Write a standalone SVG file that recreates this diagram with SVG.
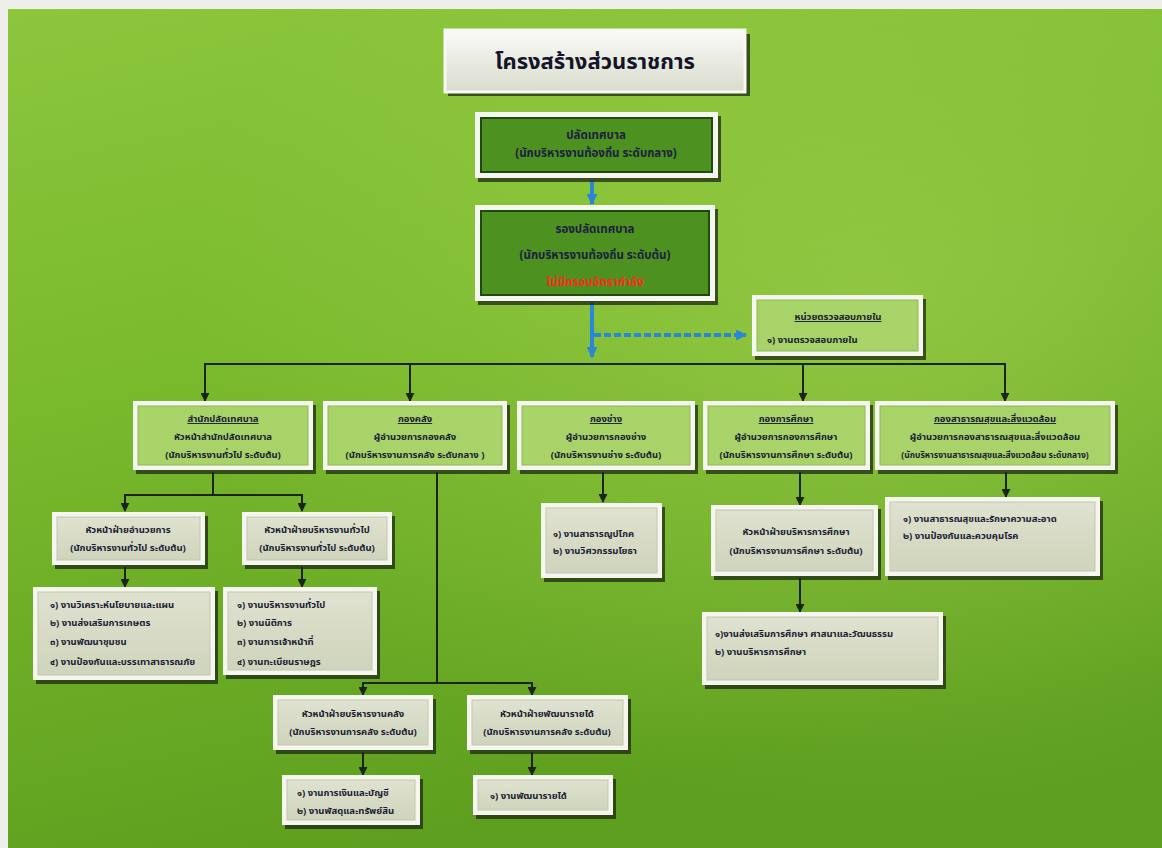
<svg xmlns="http://www.w3.org/2000/svg" width="1162" height="848" viewBox="0 0 1162 848">
<defs>
<linearGradient id="bg" x1="0" y1="0" x2="0.3" y2="1">
<stop offset="0" stop-color="#8cc63c"/>
<stop offset="0.45" stop-color="#79b92c"/>
<stop offset="1" stop-color="#5e9f1f"/>
</linearGradient>
<radialGradient id="glow" cx="0.75" cy="0.35" r="0.6">
<stop offset="0" stop-color="#a6d453" stop-opacity="0.55"/>
<stop offset="1" stop-color="#a6d453" stop-opacity="0"/>
</radialGradient>
<linearGradient id="titleg" x1="0" y1="0" x2="0" y2="1">
<stop offset="0" stop-color="#fafaf8"/>
<stop offset="1" stop-color="#d8dccb"/>
</linearGradient>
<linearGradient id="listg" x1="0" y1="0" x2="0" y2="1">
<stop offset="0" stop-color="#dfe2cf"/>
<stop offset="1" stop-color="#cfd4bc"/>
</linearGradient>
<marker id="ah" viewBox="0 0 10 10" refX="9" refY="5" markerWidth="9" markerHeight="9" markerUnits="userSpaceOnUse" orient="auto">
<path d="M0,0 L10,5 L0,10 z" fill="#1b2416"/>
</marker>
<marker id="bh" viewBox="0 0 10 10" refX="9" refY="5" markerWidth="11" markerHeight="11" markerUnits="userSpaceOnUse" orient="auto">
<path d="M0,0 L10,5 L0,10 z" fill="#2a86d6"/>
</marker>
<style>
.sh{fill:#1c2a12;opacity:0.75}
.ow{fill:#f6f6f0}
.dk{fill:#4d9120;stroke:#1f4a0d;stroke-width:2}
.lg{fill:#a8d368;stroke:#8fb855;stroke-width:1}
.ls{fill:url(#listg);stroke:#c2c7ad;stroke-width:1}
text{font-family:'Noto Sans Thai','Noto Sans Thai UI','Loma','Garuda','Tlwg Typo','Noto Sans',sans-serif;fill:#1b1d33;font-weight:bold}
.t{font-size:22px;text-anchor:middle;fill:#15152a}
.h{font-size:11.5px;text-anchor:middle;fill:#1c2040}
.c{font-size:9.5px;text-anchor:middle}
.u{text-decoration:underline}
.l{font-size:9.5px}
.r{fill:#ff2a1a}
.con{stroke:#1b2416;stroke-width:2;fill:none}
.bl{stroke:#2a86d6;stroke-width:4;fill:none}
</style>
</defs>
<rect x="0" y="0" width="1162" height="848" fill="#eeeeea"/>
<rect x="8" y="9" width="1154" height="839" fill="url(#bg)"/>
<rect x="8" y="9" width="1154" height="839" fill="url(#glow)"/>

<g id="connectors">
<line class="bl" x1="592" y1="180" x2="592" y2="204" marker-end="url(#bh)"/>
<line class="bl" x1="592" y1="302" x2="592" y2="357" marker-end="url(#bh)"/>
<line class="bl" x1="594" y1="335" x2="746" y2="335" stroke-dasharray="7 3" marker-end="url(#bh)"/>
<line class="con" x1="204" y1="364" x2="1006" y2="364"/>
<line class="con" x1="205" y1="364" x2="205" y2="401" marker-end="url(#ah)"/>
<line class="con" x1="410" y1="364" x2="410" y2="401" marker-end="url(#ah)"/>
<line class="con" x1="803" y1="364" x2="803" y2="401" marker-end="url(#ah)"/>
<line class="con" x1="1005" y1="364" x2="1005" y2="401" marker-end="url(#ah)"/>
<line class="con" x1="213" y1="472" x2="213" y2="495"/>
<line class="con" x1="124" y1="495" x2="303" y2="495"/>
<line class="con" x1="125" y1="495" x2="125" y2="511" marker-end="url(#ah)"/>
<line class="con" x1="302" y1="495" x2="302" y2="511" marker-end="url(#ah)"/>
<line class="con" x1="125" y1="567" x2="125" y2="587" marker-end="url(#ah)"/>
<line class="con" x1="302" y1="567" x2="302" y2="587" marker-end="url(#ah)"/>
<line class="con" x1="437" y1="472" x2="437" y2="683"/>
<line class="con" x1="362" y1="683" x2="533" y2="683"/>
<line class="con" x1="363" y1="683" x2="363" y2="695" marker-end="url(#ah)"/>
<line class="con" x1="532" y1="683" x2="532" y2="695" marker-end="url(#ah)"/>
<line class="con" x1="363" y1="752" x2="363" y2="775" marker-end="url(#ah)"/>
<line class="con" x1="532" y1="752" x2="532" y2="775" marker-end="url(#ah)"/>
<line class="con" x1="603" y1="472" x2="603" y2="502" marker-end="url(#ah)"/>
<line class="con" x1="800" y1="472" x2="800" y2="505" marker-end="url(#ah)"/>
<line class="con" x1="800" y1="578" x2="800" y2="612" marker-end="url(#ah)"/>
<line class="con" x1="1006" y1="472" x2="1006" y2="497" marker-end="url(#ah)"/>
</g>

<g id="title">
<rect class="sh" x="448" y="34" width="302" height="62"/>
<rect x="445" y="30" width="300" height="62" fill="url(#titleg)" stroke="#f8f8f4" stroke-width="3"/>
<text class="t" x="595" y="69">โครงสร้างส่วนราชการ</text>
</g>

<g id="n-palad">
<rect class="sh" x="478" y="116" width="243" height="66"/>
<rect class="ow" x="475" y="112" width="243" height="66"/>
<rect class="dk" x="481" y="118" width="231" height="54"/>
<text class="h" x="596" y="139">ปลัดเทศบาล</text>
<text class="h" x="596" y="157">(นักบริหารงานท้องถิ่น ระดับกลาง)</text>
</g>

<g id="n-rongpalad">
<rect class="sh" x="478" y="209" width="240" height="96"/>
<rect class="ow" x="475" y="205" width="240" height="96"/>
<rect class="dk" x="481" y="211" width="228" height="84"/>
<text class="h" x="595" y="233">รองปลัดเทศบาล</text>
<text class="h" x="595" y="259">(นักบริหารงานท้องถิ่น ระดับต้น)</text>
<text class="h r" x="595" y="286">ไม่มีกรอบอัตรากำลัง</text>
</g>

<g id="n-audit">
<rect class="sh" x="755" y="299" width="171" height="61"/>
<rect class="ow" x="752" y="295" width="171" height="61"/>
<rect class="lg" x="757" y="300" width="161" height="51"/>
<text class="c u" x="838" y="320">หน่วยตรวจสอบภายใน</text>
<text class="l" x="767" y="343">๑) งานตรวจสอบภายใน</text>
</g>

<g id="n-samnak">
<rect class="sh" x="136" y="405" width="180" height="69"/>
<rect class="ow" x="133" y="401" width="180" height="69"/>
<rect class="lg" x="138" y="406" width="170" height="59"/>
<text class="c u" x="223" y="422">สำนักปลัดเทศบาล</text>
<text class="c" x="223" y="440">หัวหน้าสำนักปลัดเทศบาล</text>
<text class="c" x="223" y="458">(นักบริหารงานทั่วไป ระดับต้น)</text>
</g>

<g id="n-klang">
<rect class="sh" x="326" y="405" width="184" height="69"/>
<rect class="ow" x="323" y="401" width="184" height="69"/>
<rect class="lg" x="328" y="406" width="174" height="59"/>
<text class="c u" x="415" y="422">กองคลัง</text>
<text class="c" x="415" y="440">ผู้อำนวยการกองคลัง</text>
<text class="c" x="415" y="458">(นักบริหารงานการคลัง ระดับกลาง )</text>
</g>

<g id="n-chang">
<rect class="sh" x="520" y="405" width="178" height="69"/>
<rect class="ow" x="517" y="401" width="178" height="69"/>
<rect class="lg" x="522" y="406" width="168" height="59"/>
<text class="c u" x="606" y="422">กองช่าง</text>
<text class="c" x="606" y="440">ผู้อำนวยการกองช่าง</text>
<text class="c" x="606" y="458">(นักบริหารงานช่าง ระดับต้น)</text>
</g>

<g id="n-suksa">
<rect class="sh" x="706" y="405" width="167" height="69"/>
<rect class="ow" x="703" y="401" width="167" height="69"/>
<rect class="lg" x="708" y="406" width="157" height="59"/>
<text class="c u" x="786" y="422">กองการศึกษา</text>
<text class="c" x="786" y="440">ผู้อำนวยการกองการศึกษา</text>
<text class="c" x="786" y="458">(นักบริหารงานการศึกษา ระดับต้น)</text>
</g>

<g id="n-satharanasuk">
<rect class="sh" x="878" y="405" width="240" height="69"/>
<rect class="ow" x="875" y="401" width="240" height="69"/>
<rect class="lg" x="880" y="406" width="230" height="59"/>
<text class="c u" x="995" y="422">กองสาธารณสุขและสิ่งแวดล้อม</text>
<text class="c" x="995" y="440">ผู้อำนวยการกองสาธารณสุขและสิ่งแวดล้อม</text>
<text class="c" x="995" y="458" style="font-size:8.5px">(นักบริหารงานสาธารณสุขและสิ่งแวดล้อม ระดับกลาง)</text>
</g>

<g id="n-amnuaikan">
<rect class="sh" x="55" y="516" width="153" height="53"/>
<rect class="ow" x="52" y="512" width="153" height="53"/>
<rect class="ls" x="57" y="517" width="143" height="43"/>
<text class="c" x="128" y="533">หัวหน้าฝ่ายอำนวยการ</text>
<text class="c" x="128" y="551">(นักบริหารงานทั่วไป ระดับต้น)</text>
</g>

<g id="n-borihan">
<rect class="sh" x="245" y="516" width="150" height="53"/>
<rect class="ow" x="242" y="512" width="150" height="53"/>
<rect class="ls" x="247" y="517" width="140" height="43"/>
<text class="c" x="317" y="533">หัวหน้าฝ่ายบริหารงานทั่วไป</text>
<text class="c" x="317" y="551">(นักบริหารงานทั่วไป ระดับต้น)</text>
</g>

<g id="n-list-amnuaikan">
<rect class="sh" x="36" y="591" width="182" height="93"/>
<rect class="ow" x="33" y="587" width="182" height="93"/>
<rect class="ls" x="38" y="592" width="172" height="83"/>
<text class="l" x="50" y="608">๑) งานวิเคราะห์นโยบายและแผน</text>
<text class="l" x="50" y="626">๒) งานส่งเสริมการเกษตร</text>
<text class="l" x="50" y="645">๓) งานพัฒนาชุมชน</text>
<text class="l" x="50" y="665">๔) งานป้องกันและบรรเทาสาธารณภัย</text>
</g>

<g id="n-list-borihan">
<rect class="sh" x="226" y="591" width="154" height="88"/>
<rect class="ow" x="223" y="587" width="154" height="88"/>
<rect class="ls" x="228" y="592" width="144" height="78"/>
<text class="l" x="237" y="608">๑) งานบริหารงานทั่วไป</text>
<text class="l" x="237" y="626">๒) งานนิติการ</text>
<text class="l" x="237" y="645">๓) งานการเจ้าหน้าที่</text>
<text class="l" x="237" y="665">๔) งานทะเบียนราษฎร</text>
</g>

<g id="n-list-chang">
<rect class="sh" x="544" y="507" width="121" height="75"/>
<rect class="ow" x="541" y="503" width="121" height="75"/>
<rect class="ls" x="546" y="508" width="111" height="65"/>
<text class="l" x="553" y="537">๑) งานสาธารณูปโภค</text>
<text class="l" x="553" y="554">๒) งานวิศวกรรมโยธา</text>
</g>

<g id="n-borihansuksa">
<rect class="sh" x="714" y="509" width="167" height="71"/>
<rect class="ow" x="711" y="505" width="167" height="71"/>
<rect class="ls" x="716" y="510" width="157" height="61"/>
<text class="c" x="796" y="535">หัวหน้าฝ่ายบริหารการศึกษา</text>
<text class="c" x="796" y="554">(นักบริหารงานการศึกษา ระดับต้น)</text>
</g>

<g id="n-list-suksa">
<rect class="sh" x="705" y="616" width="241" height="73"/>
<rect class="ow" x="702" y="612" width="241" height="73"/>
<rect class="ls" x="707" y="617" width="231" height="63"/>
<text class="l" x="715" y="637">๑)งานส่งเสริมการศึกษา ศาสนาและวัฒนธรรม</text>
<text class="l" x="715" y="655">๒) งานบริหารการศึกษา</text>
</g>

<g id="n-list-satharanasuk">
<rect class="sh" x="888" y="501" width="215" height="79"/>
<rect class="ow" x="885" y="497" width="215" height="79"/>
<rect class="ls" x="890" y="502" width="205" height="69"/>
<text class="l" x="903" y="522">๑) งานสาธารณสุขและรักษาความสะอาด</text>
<text class="l" x="903" y="539">๒) งานป้องกันและควบคุมโรค</text>
</g>

<g id="n-borihanklang">
<rect class="sh" x="276" y="699" width="160" height="55"/>
<rect class="ow" x="273" y="695" width="160" height="55"/>
<rect class="ls" x="278" y="700" width="150" height="45"/>
<text class="c" x="353" y="717">หัวหน้าฝ่ายบริหารงานคลัง</text>
<text class="c" x="353" y="735">(นักบริหารงานการคลัง ระดับต้น)</text>
</g>

<g id="n-phatthana">
<rect class="sh" x="470" y="699" width="161" height="55"/>
<rect class="ow" x="467" y="695" width="161" height="55"/>
<rect class="ls" x="472" y="700" width="151" height="45"/>
<text class="c" x="547" y="717">หัวหน้าฝ่ายพัฒนารายได้</text>
<text class="c" x="547" y="735">(นักบริหารงานการคลัง ระดับต้น)</text>
</g>

<g id="n-list-klang">
<rect class="sh" x="285" y="779" width="138" height="50"/>
<rect class="ow" x="282" y="775" width="138" height="50"/>
<rect class="ls" x="287" y="780" width="128" height="40"/>
<text class="l" x="297" y="796">๑) งานการเงินและบัญชี</text>
<text class="l" x="297" y="814">๒) งานพัสดุและทรัพย์สิน</text>
</g>

<g id="n-list-phatthana">
<rect class="sh" x="476" y="779" width="140" height="40"/>
<rect class="ow" x="473" y="775" width="140" height="40"/>
<rect class="ls" x="478" y="780" width="130" height="30"/>
<text class="l" x="490" y="799">๑) งานพัฒนารายได้</text>
</g>
</svg>
